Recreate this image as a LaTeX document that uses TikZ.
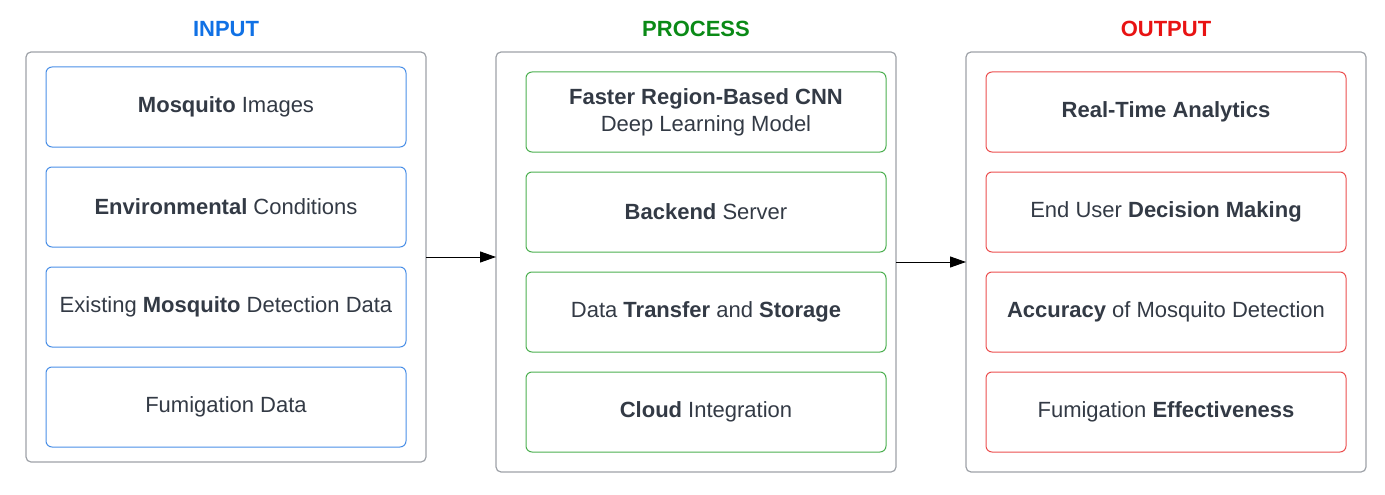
\documentclass[tikz,border=0pt]{standalone}
\usepackage{fontspec}
\setmainfont{Liberation Sans}
\usetikzlibrary{positioning, arrows.meta}
\definecolor{txt}{HTML}{333A45}
\definecolor{panelgray}{HTML}{9EA2A8}
\definecolor{inblue}{HTML}{1071E5}
\definecolor{procgreen}{HTML}{0A8A16}
\definecolor{outred}{HTML}{E81313}
\definecolor{boxblue}{HTML}{4A8FE7}
\definecolor{boxgreen}{HTML}{4CAF50}
\definecolor{boxred}{HTML}{EB4E4E}

\begin{document}
\begin{tikzpicture}[x=1pt,y=-1pt,
  every node/.style={font=\fontsize{22}{26}\selectfont, text=txt},
  panel/.style={draw=panelgray, line width=1.2pt, rounded corners=5pt, minimum width=400pt, inner sep=0pt, outer sep=0pt},
  item/.style={draw=#1, line width=1pt, rounded corners=6pt, minimum width=360pt, minimum height=80pt, align=center, inner sep=0pt, outer sep=0pt},
  head/.style={font=\fontsize{22}{26}\selectfont\bfseries, text=#1},
  flow/.style={-{Triangle[length=16pt,width=11pt]}, line width=1pt}]
\useasboundingbox (0,0) rectangle (1385,495);
% titles
\node[head=inblue] (tin) at (226,29) {INPUT};
\node[head=procgreen] (tproc) at (696,29) {PROCESS};
\node[head=outred] (tout) at (1166,29) {OUTPUT};
% panels
\node[panel, minimum height=410pt] (inpanel) at (226,257) {};
\node[panel, minimum height=420pt] (procpanel) at (696,262) {};
\node[panel, minimum height=420pt] (outpanel) at (1166,262) {};
% input column
\node[item=boxblue] (img) at (226,107) {\textbf{Mosquito} Images};
\node[item=boxblue, below=20pt of img] (env) {\textbf{Environmental} Conditions};
\node[item=boxblue, below=20pt of env] (exist) {Existing \textbf{Mosquito} Detection Data};
\node[item=boxblue, below=20pt of exist] (fum) {Fumigation Data};
% process column
\node[item=boxgreen] (cnn) at (706,112) {\textbf{Faster Region-Based CNN}\\[1pt]Deep Learning Model};
\node[item=boxgreen, below=20pt of cnn] (server) {\textbf{Backend} Server};
\node[item=boxgreen, below=20pt of server] (store) {Data \textbf{Transfer} and \textbf{Storage}};
\node[item=boxgreen, below=20pt of store] (cloud) {\textbf{Cloud} Integration};
% output column
\node[item=boxred] (rta) at (1166,112) {\textbf{Real-Time Analytics}};
\node[item=boxred, below=20pt of rta] (dec) {End User \textbf{Decision Making}};
\node[item=boxred, below=20pt of dec] (acc) {\textbf{Accuracy} of Mosquito Detection};
\node[item=boxred, below=20pt of acc] (eff) {Fumigation \textbf{Effectiveness}};
% arrows
\draw[flow] (inpanel.east) -- (inpanel.east -| procpanel.west);
\draw[flow] (procpanel.east) -- (outpanel.west);
\end{tikzpicture}
\end{document}
